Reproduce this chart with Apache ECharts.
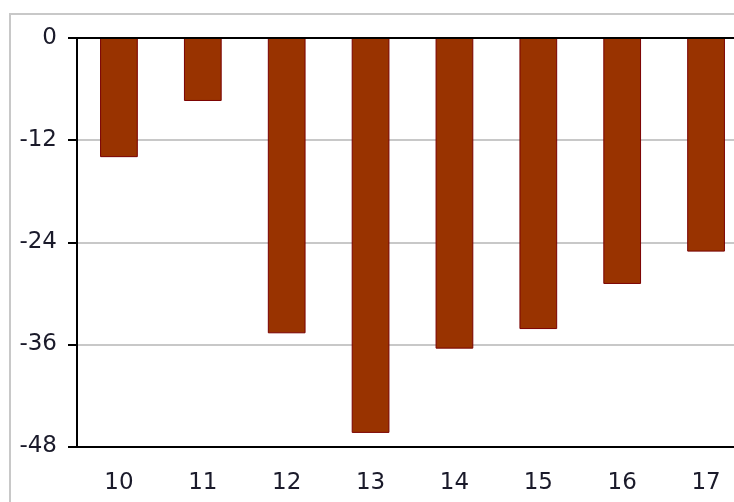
<!DOCTYPE html>
<html>
<head>
<meta charset="utf-8">
<script src="https://cdn.jsdelivr.net/npm/echarts@6/dist/echarts.min.js"></script>
<style>html,body{margin:0;padding:0;background:#fff}#c{width:734px;height:502px}</style>
</head>
<body>
<div id="c"></div>
<script>
const categories = ['10', '11', '12', '13', '14', '15', '16', '17'];
const values = [-14.0, -7.4, -34.7, -46.4, -36.5, -34.2, -28.9, -25.1];
const yTicks = { min: -48, max: 0, interval: 12 };

const chart = echarts.init(document.getElementById('c'));
const labelFont = { color: '#1a1a2a', fontSize: 23, fontFamily: 'DejaVu Sans, sans-serif' };
chart.setOption({
  animation: false,
  backgroundColor: '#ffffff',
  graphic: [{
    type: 'rect', silent: true, z: -1,
    shape: { x: 10, y: 14, width: 800, height: 600 },
    style: { fill: 'none', stroke: '#c8c8c8', lineWidth: 2 }
  }],
  grid: { left: 77, top: 38, width: 671, height: 408.5, containLabel: false, outerBoundsMode: 'none' },
  xAxis: [{
    type: 'category', data: categories, position: 'bottom', z: 5,
    axisLine: { show: true, onZero: false, lineStyle: { color: '#000', width: 2 } },
    axisTick: { show: false },
    axisLabel: Object.assign({ margin: 25 }, labelFont)
  }, {
    type: 'category', data: categories, position: 'top', z: 5,
    axisLine: { show: true, onZero: false, lineStyle: { color: '#000', width: 2 } },
    axisTick: { show: false }, axisLabel: { show: false }
  }],
  yAxis: {
    type: 'value', min: yTicks.min, max: yTicks.max, interval: yTicks.interval,
    axisLine: { show: true, lineStyle: { color: '#000', width: 2 } },
    axisTick: { show: true, length: 9, lineStyle: { color: '#000', width: 2 } },
    splitLine: { show: true, showMinLine: false, showMaxLine: false, lineStyle: { color: '#c8c8c8', width: 2 } },
    axisLabel: Object.assign({ margin: 20 }, labelFont)
  },
  series: [{
    type: 'bar', data: values, barWidth: '45%',
    itemStyle: { color: '#993300', borderColor: '#7a0000', borderWidth: 1 }
  }]
});
</script>
</body>
</html>
